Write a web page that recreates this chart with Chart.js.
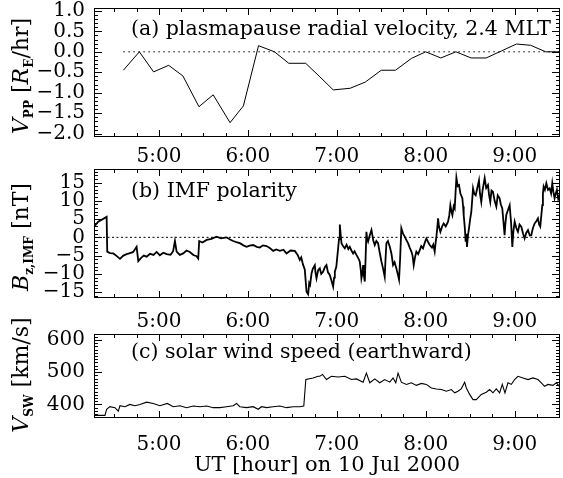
<!DOCTYPE html>
<html>
<head>
<meta charset="utf-8">
<script src="https://cdn.jsdelivr.net/npm/chart.js@4.4.1/dist/chart.umd.min.js"></script>
<style>
body { margin: 0; background: #fff; }
#page { position: relative; width: 563px; height: 478px; overflow: hidden; font-family: "DejaVu Serif", serif; color: #000; }
canvas { position: absolute; left: 0; }
.ytitle { position: absolute; transform: translate(-50%, -50%) rotate(-90deg); white-space: nowrap; font-size: 22px; }
.ytitle sub { font-size: 55%; font-weight: bold; vertical-align: -0.35em; }
.note { position: absolute; left: 131px; transform: translateY(-50%); white-space: nowrap; font-size: 20.5px; }
</style>
</head>
<body>
<div id="page">
  <canvas id="velChart" width="563" height="165" style="top:0px"></canvas>
  <canvas id="imfChart" width="563" height="169" style="top:161px"></canvas>
  <canvas id="swChart" width="563" height="152" style="top:326px"></canvas>

  <div class="ytitle" style="left:22px;top:76px"><i>V</i><sub>PP</sub> [<i>R</i><sub>E</sub>/hr]</div>
  <div class="ytitle" style="left:22px;top:237px"><i>B</i><sub>z,IMF</sub> [nT]</div>
  <div class="ytitle" style="left:22px;top:375px"><i>V</i><sub>SW</sub> [km/s]</div>

  <div class="note" style="top:28px">(a) plasmapause radial velocity, 2.4 MLT</div>
  <div class="note" style="top:190px">(b) IMF polarity</div>
  <div class="note" style="top:351px">(c) solar wind speed (earthward)</div>
</div>

<script>
// time axis, decimal UT hours
const tStart = 4.27;
const tEnd = 9.51;
const hourTicks = [5, 6, 7, 8, 9];

// (a) plasmapause radial velocity [RE/hr]
const velTime = [4.60, 4.78, 4.94, 5.11, 5.27, 5.45, 5.61, 5.80, 5.95, 6.12, 6.30, 6.46, 6.65, 6.81, 6.96,
    7.15, 7.32, 7.50, 7.66, 7.84, 8.00, 8.17, 8.34, 8.51, 8.68, 8.85, 9.02, 9.18, 9.35, 9.51];
const velValue = [-0.45, 0.00, -0.49, -0.33, -0.59, -1.34, -1.05, -1.73, -1.32, 0.15, 0.00, -0.28, -0.28, -0.61, -0.93,
    -0.89, -0.74, -0.45, -0.45, -0.16, 0.00, -0.15, 0.00, -0.15, -0.15, 0.02, 0.19, 0.16, 0.00, 0.00];
const velTicks = [-2.0, -1.5, -1.0, -0.5, 0.0, 0.5, 1.0];

// (b) IMF Bz [nT]
const imfTime = [4.270, 4.318, 4.412, 4.419, 4.45, 4.487, 4.52, 4.562, 4.60, 4.637, 4.675, 4.711, 4.749, 4.768, 4.80,
    4.83, 4.862, 4.90, 4.94, 4.974, 5.01, 5.05, 5.087, 5.13, 5.16, 5.180, 5.199, 5.235, 5.273, 5.31,
    5.348, 5.39, 5.42, 5.442, 5.453, 5.49, 5.536, 5.59, 5.648, 5.70, 5.761, 5.80, 5.835, 5.87, 5.910,
    5.95, 5.985, 6.02, 6.060, 6.10, 6.135, 6.17, 6.211, 6.25, 6.285, 6.32, 6.360, 6.40, 6.435, 6.48,
    6.528, 6.56, 6.584, 6.60, 6.622, 6.64, 6.660, 6.678, 6.69, 6.70, 6.716, 6.73, 6.753, 6.76, 6.772,
    6.79, 6.809, 6.825, 6.846, 6.865, 6.884, 6.90, 6.921, 6.94, 6.959, 6.97, 6.978, 6.995, 7.015, 7.025,
    7.034, 7.045, 7.053, 7.07, 7.090, 7.11, 7.13, 7.146, 7.165, 7.184, 7.20, 7.221, 7.24, 7.258, 7.27,
    7.277, 7.29, 7.296, 7.305, 7.315, 7.325, 7.333, 7.342, 7.352, 7.37, 7.390, 7.41, 7.427, 7.445, 7.464,
    7.48, 7.502, 7.52, 7.539, 7.548, 7.558, 7.575, 7.596, 7.615, 7.633, 7.65, 7.670, 7.685, 7.700, 7.712,
    7.726, 7.745, 7.764, 7.78, 7.801, 7.82, 7.839, 7.852, 7.865, 7.88, 7.895, 7.915, 7.933, 7.95, 7.970,
    7.99, 8.007, 8.025, 8.045, 8.07, 8.085, 8.101, 8.110, 8.120, 8.13, 8.139, 8.150, 8.165, 8.185, 8.202,
    8.225, 8.251, 8.265, 8.277, 8.290, 8.300, 8.315, 8.326, 8.335, 8.345, 8.36, 8.375, 8.39, 8.412, 8.42,
    8.427, 8.44, 8.449, 8.457, 8.464, 8.475, 8.487, 8.50, 8.513, 8.522, 8.532, 8.545, 8.562, 8.58, 8.599,
    8.61, 8.625, 8.64, 8.663, 8.68, 8.700, 8.713, 8.726, 8.74, 8.756, 8.775, 8.794, 8.81, 8.831, 8.845,
    8.861, 8.875, 8.887, 8.895, 8.906, 8.925, 8.944, 8.96, 8.974, 8.985, 9.000, 9.018, 9.037, 9.055, 9.075,
    9.095, 9.112, 9.13, 9.150, 9.17, 9.187, 9.205, 9.225, 9.245, 9.262, 9.275, 9.288, 9.30, 9.311, 9.318,
    9.326, 9.34, 9.356, 9.375, 9.393, 9.41, 9.423, 9.435, 9.449, 9.462, 9.475, 9.49, 9.505];
const imfValue = [2.9, 4.3, 5.6, -3.9, -4.3, -4.4, -5.0, -5.9, -5.0, -4.6, -4.3, -4.0, -2.6, -6.5, -5.6,
    -5.0, -5.3, -4.5, -4.8, -4.0, -4.9, -4.2, -4.6, -4.8, -3.8, -1.0, -3.9, -4.8, -4.4, -3.6,
    -4.0, -4.9, -5.1, -5.8, -1.0, -1.4, -0.7, -0.4, 0.2, -0.3, 0.0, -0.6, -1.0, -1.3, -1.6,
    -2.2, -2.6, -2.3, -2.1, -2.6, -2.8, -2.2, -2.4, -3.0, -3.7, -3.3, -3.7, -3.4, -4.4, -3.6,
    -3.7, -4.8, -6.2, -5.5, -7.6, -8.8, -14.9, -15.6, -12.5, -13.0, -9.9, -8.6, -7.6, -9.5, -11.2,
    -9.0, -8.5, -10.0, -9.4, -8.2, -7.6, -9.5, -10.3, -11.8, -13.5, -11.0, -9.4, -8.0, -3.0, -0.5,
    3.5, 0.5, -1.6, -2.4, -3.0, -2.0, -3.2, -2.6, -3.6, -4.4, -3.8, -4.8, -5.6, -6.6, -9.0,
    -11.2, -9.5, -7.6, -10.5, -12.1, -5.0, 1.5, -0.5, -1.2, 0.5, 2.0, -0.8, -2.1, -1.0, -1.6,
    -3.8, -6.6, -8.5, -10.8, -6.0, -1.6, -1.0, -2.6, -4.5, -7.6, -6.8, -8.5, -10.0, -11.6, -6.0,
    2.5, 1.0, 0.2, -0.6, -1.6, -2.8, -3.9, -5.0, -7.6, -5.4, -3.9, -4.6, -3.5, -2.4, -3.0,
    -1.4, -0.3, -1.2, -2.1, -2.8, -2.0, -3.9, -1.8, 0.2, 2.6, 5.2, 2.8, 1.5, 3.0, 3.8,
    3.0, 4.3, 6.0, 8.8, 7.0, 6.1, 8.5, 7.9, 12.0, 16.3, 14.0, 14.3, 12.0, 10.7, 8.5,
    6.1, 2.5, -1.2, 1.0, -2.6, 0.5, 2.5, 5.0, 7.0, 10.0, 13.4, 12.0, 11.5, 13.5, 15.6,
    12.0, 9.7, 13.0, 16.2, 13.5, 14.3, 11.5, 9.7, 12.8, 12.5, 10.0, 8.4, 11.5, 10.7, 9.0,
    7.9, 4.0, 0.6, 3.5, 6.1, 7.5, 8.8, 4.0, -2.6, 1.5, 4.3, 2.6, 1.5, 3.5, 2.9,
    1.0, -0.3, 1.2, 2.0, 0.5, 0.6, 2.5, 3.8, 4.5, 5.2, 3.5, 2.9, 6.0, 8.8, 12.0,
    13.9, 13.0, 14.8, 13.0, 13.4, 12.0, 14.8, 12.5, 10.7, 12.0, 13.0, 10.5, 11.6];
const imfTicks = [-15, -10, -5, 0, 5, 10, 15];

// (c) solar wind speed [km/s]
const swTime = [4.270, 4.393, 4.412, 4.449, 4.506, 4.543, 4.562, 4.618, 4.674, 4.730, 4.787, 4.862, 4.936, 5.011, 5.094,
    5.161, 5.236, 5.311, 5.386, 5.461, 5.536, 5.611, 5.686, 5.761, 5.835, 5.873, 5.910, 5.985, 6.060, 6.116,
    6.154, 6.210, 6.285, 6.360, 6.435, 6.510, 6.584, 6.629, 6.652, 6.734, 6.790, 6.809, 6.839, 6.884, 6.940,
    7.015, 7.090, 7.165, 7.221, 7.296, 7.333, 7.371, 7.427, 7.483, 7.539, 7.596, 7.633, 7.663, 7.689, 7.726,
    7.783, 7.839, 7.895, 7.951, 8.007, 8.064, 8.120, 8.176, 8.232, 8.288, 8.326, 8.363, 8.401, 8.438, 8.457,
    8.494, 8.532, 8.569, 8.625, 8.681, 8.719, 8.756, 8.794, 8.831, 8.861, 8.891, 8.925, 8.963, 9.000, 9.037,
    9.094, 9.150, 9.206, 9.262, 9.300, 9.337, 9.375, 9.431, 9.468, 9.505];
const swValue = [366, 366, 385, 393, 390, 379, 396, 393, 400, 396, 400, 407, 403, 396, 403,
    393, 396, 390, 395, 393, 395, 390, 390, 393, 396, 403, 393, 390, 393, 385,
    393, 390, 393, 395, 390, 393, 393, 395, 477, 482, 487, 487, 493, 477, 487,
    485, 487, 477, 479, 469, 497, 467, 479, 467, 477, 469, 482, 467, 497, 469,
    462, 467, 459, 465, 462, 451, 448, 446, 441, 446, 436, 441, 449, 469, 451,
    431, 415, 415, 431, 438, 446, 436, 448, 436, 462, 436, 467, 462, 477, 487,
    482, 477, 482, 477, 467, 456, 462, 459, 467, 456];
const swTicks = [400, 500, 600];

const tickFont = { family: 'DejaVu Serif', size: 20 };

function points(xs, ys) {
    return xs.map((t, i) => ({ x: t, y: ys[i] }));
}

function signed(v, digits) {
    const s = Math.abs(v).toFixed(digits);
    return v < 0 ? '\u2212' + s : s;
}

/* box with inward ticks on all four sides, like the IDL original */
const framePlugin = {
    id: 'frame',
    afterDatasetsDraw(chart, args, opts) {
        const ctx = chart.ctx;
        const area = chart.chartArea;
        const x = chart.scales.x;
        const y = chart.scales.y;
        ctx.save();
        ctx.strokeStyle = '#000';
        ctx.lineWidth = 1;
        ctx.strokeRect(Math.round(area.left) + 0.5, Math.round(area.top) + 0.5,
            Math.round(area.right - area.left) - 1, Math.round(area.bottom - area.top) - 1);
        ctx.beginPath();
        for (let k = Math.ceil(x.min * 4); k <= Math.floor(x.max * 4); k++) {
            const px = Math.round(x.getPixelForValue(k / 4)) + 0.5;
            const len = k % 4 === 0 ? 7 : 4;
            ctx.moveTo(px, area.bottom);
            ctx.lineTo(px, area.bottom - len);
            ctx.moveTo(px, area.top);
            ctx.lineTo(px, area.top + len);
        }
        for (let k = Math.ceil(y.min / opts.minor - 1e-6); k <= Math.floor(y.max / opts.minor + 1e-6); k++) {
            const py = Math.round(y.getPixelForValue(k * opts.minor)) + 0.5;
            const len = k % opts.per === 0 ? 8 : 4;
            ctx.moveTo(area.left, py);
            ctx.lineTo(area.left + len, py);
            ctx.moveTo(area.right, py);
            ctx.lineTo(area.right - len, py);
        }
        ctx.stroke();
        ctx.restore();
    }
};

function noPadding(s) {
    s.paddingTop = 0;
    s.paddingBottom = 0;
    s.paddingLeft = 0;
    s.paddingRight = 0;
}

function makePanel(id, cfg) {
    const datasets = [{
        data: points(cfg.time, cfg.value),
        borderColor: '#000',
        borderWidth: cfg.lineWidth,
        pointRadius: 0,
        tension: 0
    }];
    if (cfg.zeroFrom !== undefined) {
        datasets.push({
            data: [{ x: cfg.zeroFrom, y: 0 }, { x: tEnd, y: 0 }],
            borderColor: '#000',
            borderWidth: 1,
            borderDash: cfg.dash,
            pointRadius: 0
        });
    }
    const xAxis = {
        type: 'linear',
        min: tStart,
        max: tEnd,
        afterBuildTicks: s => { s.ticks = hourTicks.map(v => ({ value: v })); },
        afterFit: s => { s.height = cfg.xHeight; noPadding(s); },
        grid: { display: false, drawTicks: false },
        border: { display: false },
        ticks: {
            color: '#000',
            font: tickFont,
            padding: cfg.xPad,
            maxRotation: 0,
            autoSkip: false,
            callback: v => v + ':00'
        }
    };
    if (cfg.xTitle) {
        xAxis.title = {
            display: true,
            text: cfg.xTitle,
            color: '#000',
            font: { family: 'DejaVu Serif', size: 21 },
            padding: { top: 0, bottom: 0 }
        };
    }
    return new Chart(document.getElementById(id), {
        type: 'line',
        data: { datasets: datasets },
        plugins: [framePlugin],
        options: {
            responsive: false,
            animation: false,
            layout: { padding: { top: 8, right: 3, left: 0, bottom: 0 } },
            plugins: {
                legend: { display: false },
                tooltip: { enabled: false },
                frame: { minor: cfg.minor, per: cfg.per }
            },
            scales: {
                x: xAxis,
                y: {
                    min: cfg.yMin,
                    max: cfg.yMax,
                    afterBuildTicks: s => { s.ticks = cfg.ticks.map(v => ({ value: v })); },
                    afterFit: s => { s.width = 94; noPadding(s); },
                    grid: { display: false, drawTicks: false },
                    border: { display: false },
                    ticks: {
                        color: '#000',
                        font: tickFont,
                        padding: 9,
                        autoSkip: false,
                        callback: v => signed(v, cfg.digits)
                    }
                }
            }
        }
    });
}

makePanel('velChart', {
    time: velTime, value: velValue, ticks: velTicks, digits: 1,
    yMin: -2.08, yMax: 1.07, minor: 0.1, per: 5,
    lineWidth: 1, zeroFrom: velTime[0], dash: [1.5, 3.5],
    xHeight: 28, xPad: 8
});
makePanel('imfChart', {
    time: imfTime, value: imfValue, ticks: imfTicks, digits: 0,
    yMin: -16.6, yMax: 18.7, minor: 1, per: 5,
    lineWidth: 1.8, zeroFrom: tStart, dash: [2, 2.5],
    xHeight: 32, xPad: 12
});
makePanel('swChart', {
    time: swTime, value: swValue, ticks: swTicks, digits: 0,
    yMin: 358, yMax: 618, minor: 10, per: 10,
    lineWidth: 1.1,
    xHeight: 60, xPad: 15, xTitle: 'UT [hour] on 10 Jul 2000'
});
</script>
</body>
</html>
